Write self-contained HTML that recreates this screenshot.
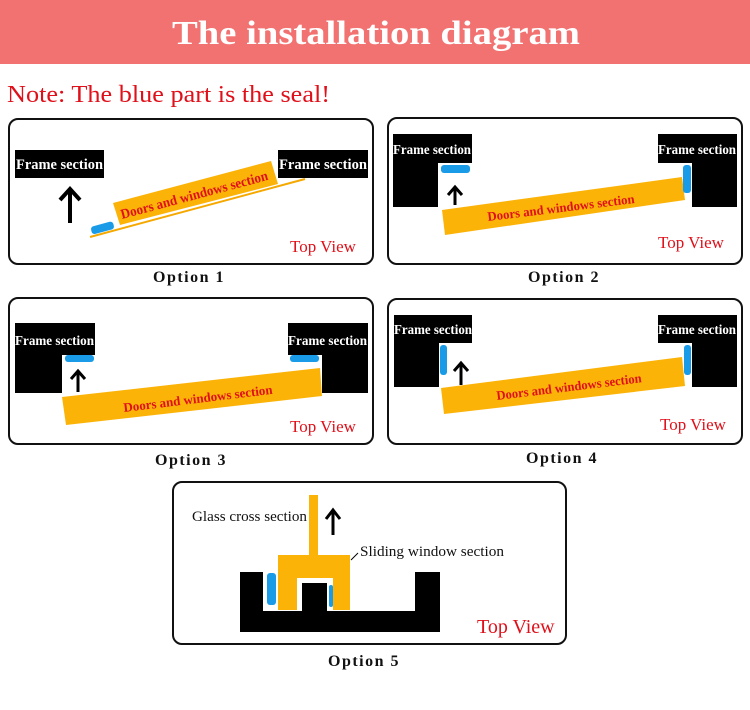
<!DOCTYPE html>
<html><head><style>body{margin:0;background:#fff}svg{display:block}</style></head><body>
<svg width="750" height="710" viewBox="0 0 750 710" xmlns="http://www.w3.org/2000/svg" font-family="Liberation Serif, serif">
<rect x="0" y="0" width="750" height="64" fill="#f27272"/>
<text x="172" y="44" fill="#fff" font-size="34" font-weight="bold" textLength="408" lengthAdjust="spacingAndGlyphs">The installation diagram</text>
<text x="7" y="102" fill="#e0101a" font-size="24" textLength="323" lengthAdjust="spacingAndGlyphs">Note: The blue part is the seal!</text>
<g fill="none" stroke="#111" stroke-width="2">
<rect x="9" y="119" width="364" height="145" rx="9"/>
<rect x="388" y="118" width="354" height="146" rx="9"/>
<rect x="9" y="298" width="364" height="146" rx="9"/>
<rect x="388" y="299" width="354" height="145" rx="9"/>
<rect x="173" y="482" width="393" height="162" rx="9"/>
</g>
<g font-size="16" fill="#111" font-weight="bold" letter-spacing="1.5">
<text x="153" y="282">Option 1</text><text x="528" y="282">Option 2</text>
<text x="155" y="465">Option 3</text><text x="526" y="463">Option 4</text>
<text x="328" y="666">Option 5</text>
</g>
<g font-size="17" fill="#e0101a">
<text x="290" y="252">Top View</text><text x="658" y="248">Top View</text>
<text x="290" y="432">Top View</text><text x="660" y="430">Top View</text>
<text x="477" y="633" font-size="20">Top View</text>
</g>
<!-- Panel 1 -->
<rect x="15" y="150" width="89" height="28" fill="#000"/>
<rect x="278" y="150" width="90" height="28" fill="#000"/>
<line x1="90" y1="237" x2="305" y2="179" stroke="#f5a800" stroke-width="2"/>
<polygon points="113,203 271,161 278,184 120,225" fill="#fbb308"/>
<rect x="91" y="224" width="23" height="8" rx="3" fill="#1a9be8" transform="rotate(-15 102 228)"/>
<path d="M70 223 V190 M60 200 L70 189 L80 200" stroke="#000" stroke-width="4" fill="none"/>
<g font-size="15" fill="#fff" font-weight="bold"><text x="16" y="169" textLength="87" lengthAdjust="spacingAndGlyphs">Frame section</text><text x="279" y="169" textLength="88" lengthAdjust="spacingAndGlyphs">Frame section</text></g>
<text font-size="14" fill="#e0101a" font-weight="bold" transform="translate(122 219) rotate(-15)" textLength="152" lengthAdjust="spacingAndGlyphs">Doors and windows section</text>
<!-- Panel 2 -->
<path d="M393 134 H472 V163 H438 V207 H393Z" fill="#000"/>
<path d="M658 134 H737 V207 H692 V163 H658Z" fill="#000"/>
<polygon points="442,210 682,177 685,200 445,235" fill="#fbb308"/>
<rect x="441" y="165" width="29" height="8" rx="3" fill="#1a9be8"/>
<rect x="683" y="165" width="8" height="28" rx="3" fill="#1a9be8"/>
<path d="M455 205 V189 M448 195 L455 187 L462 195" stroke="#000" stroke-width="3" fill="none"/>
<g font-size="14" fill="#fff" font-weight="bold"><text x="393" y="154" textLength="78" lengthAdjust="spacingAndGlyphs">Frame section</text><text x="658" y="154" textLength="78" lengthAdjust="spacingAndGlyphs">Frame section</text></g>
<text font-size="13" fill="#e0101a" font-weight="bold" transform="translate(488 221) rotate(-7)" textLength="148" lengthAdjust="spacingAndGlyphs">Doors and windows section</text>
<!-- Panel 3 -->
<path d="M15 323 H95 V355 H62 V393 H15Z" fill="#000"/>
<path d="M288 323 H368 V393 H322 V355 H288Z" fill="#000"/>
<polygon points="62,397 320,368 322,396 66,425" fill="#fbb308"/>
<rect x="65" y="355" width="29" height="7" rx="3" fill="#1a9be8"/>
<rect x="290" y="355" width="29" height="7" rx="3" fill="#1a9be8"/>
<path d="M78 392 V372 M71 379 L78 371 L85 379" stroke="#000" stroke-width="3" fill="none"/>
<g font-size="14" fill="#fff" font-weight="bold"><text x="15" y="345" textLength="79" lengthAdjust="spacingAndGlyphs">Frame section</text><text x="288" y="345" textLength="79" lengthAdjust="spacingAndGlyphs">Frame section</text></g>
<text font-size="13" fill="#e0101a" font-weight="bold" transform="translate(124 412) rotate(-7)" textLength="150" lengthAdjust="spacingAndGlyphs">Doors and windows section</text>
<!-- Panel 4 -->
<path d="M394 315 H472 V343 H439 V387 H394Z" fill="#000"/>
<path d="M658 315 H737 V387 H692 V343 H658Z" fill="#000"/>
<polygon points="441,388 682,357 685,386 444,414" fill="#fbb308"/>
<rect x="440" y="345" width="7" height="30" rx="3" fill="#1a9be8"/>
<rect x="684" y="345" width="7" height="30" rx="3" fill="#1a9be8"/>
<path d="M461 385 V364 M454 371 L461 363 L468 371" stroke="#000" stroke-width="3" fill="none"/>
<g font-size="14" fill="#fff" font-weight="bold"><text x="394" y="334" textLength="78" lengthAdjust="spacingAndGlyphs">Frame section</text><text x="658" y="334" textLength="78" lengthAdjust="spacingAndGlyphs">Frame section</text></g>
<text font-size="13" fill="#e0101a" font-weight="bold" transform="translate(497 400) rotate(-7)" textLength="146" lengthAdjust="spacingAndGlyphs">Doors and windows section</text>
<!-- Panel 5 -->
<path d="M240 572 H263 V611 H415 V572 H440 V632 H240Z" fill="#000"/>
<rect x="302" y="583" width="25" height="30" fill="#000"/>
<path d="M309 495 H318 V555 H350 V610 H333 V578 H297 V610 H278 V555 H309Z" fill="#fbb308"/>
<rect x="267" y="573" width="9" height="32" rx="3" fill="#1a9be8"/>
<rect x="329" y="585" width="4" height="22" rx="2" fill="#1a9be8"/>
<path d="M333 535 V512 M326 519 L333 510 L340 519" stroke="#000" stroke-width="3" fill="none"/>
<line x1="351" y1="560" x2="358" y2="553" stroke="#000" stroke-width="1"/>
<g font-size="15" fill="#111"><text x="192" y="521" textLength="115" lengthAdjust="spacingAndGlyphs">Glass cross section</text><text x="360" y="556" textLength="144" lengthAdjust="spacingAndGlyphs">Sliding window section</text></g>
</svg>
</body></html>
